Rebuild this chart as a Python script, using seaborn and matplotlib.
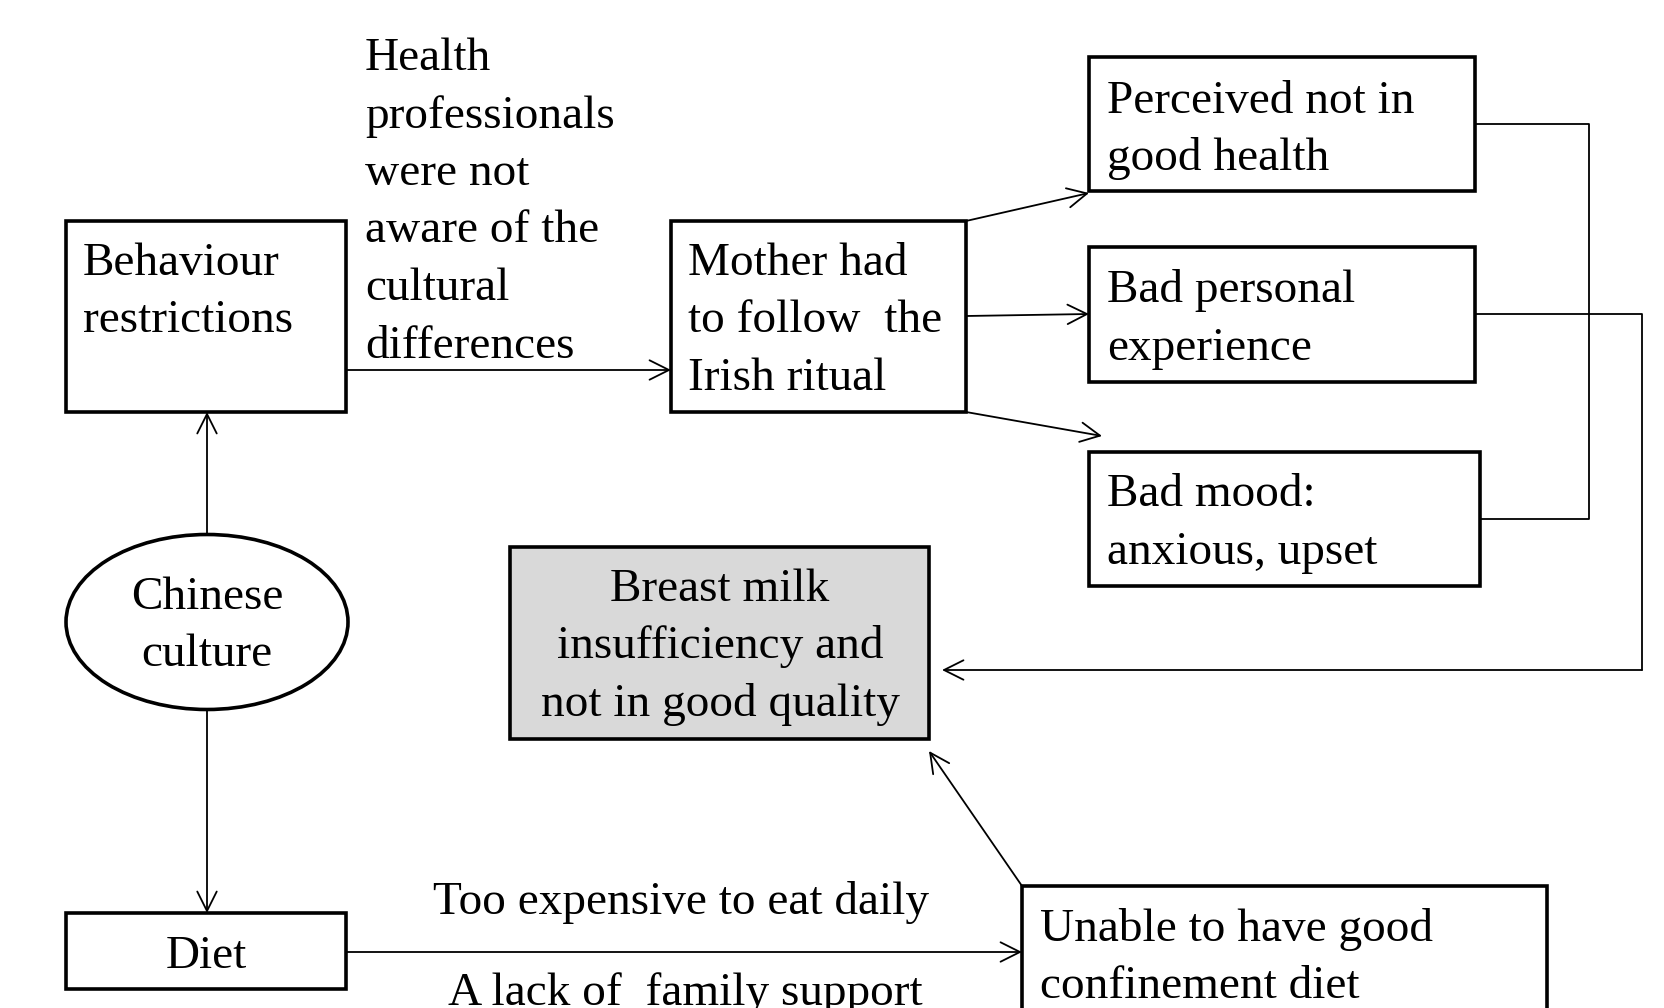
import matplotlib.pyplot as plt
import seaborn as sns
from matplotlib.patches import Rectangle, Ellipse

sns.set_theme(style="white")
plt.rcParams['font.family'] = ['Liberation Serif', 'DejaVu Serif']

W, H = 1664, 1008
FS = 34          # font size in points
STEP = 57.5      # line step in pixels

# --- labels ---
behaviour_lines = ["Behaviour", "restrictions"]
health_lines = ["Health", "professionals", "were not", "aware of the", "cultural", "differences"]
mother_lines = ["Mother had", "to follow  the", "Irish ritual"]
perceived_lines = ["Perceived not in", "good health"]
personal_lines = ["Bad personal", "experience"]
mood_lines = ["Bad mood:", "anxious, upset"]
milk_lines = ["Breast milk", "insufficiency and", "not in good quality"]
culture_lines = ["Chinese", "culture"]
diet_lines = ["Diet"]
unable_lines = ["Unable to have good", "confinement diet"]
expensive_lines = ["Too expensive to eat daily"]
support_lines = ["A lack of  family support"]

# --- layout (pixels, y downwards) ---
boxes = {
    "behaviour": (66, 221, 346, 412),
    "mother": (671, 221, 966, 412),
    "perceived": (1089, 57, 1475, 191),
    "personal": (1089, 247, 1475, 382),
    "mood": (1089, 452, 1480, 586),
    "milk": (510, 547, 929, 739),
    "diet": (66, 913, 346, 989),
    "unable": (1022, 886, 1547, 1100),
}
# (lines, x, first line centre y, align)
texts = [
    (behaviour_lines, 83, 259, "left"),
    (health_lines, 365, 54, "left"),
    (mother_lines, 688, 259, "left"),
    (perceived_lines, 1107, 97, "left"),
    (personal_lines, 1107, 286, "left"),
    (mood_lines, 1107, 490, "left"),
    (milk_lines, 720, 585, "center"),
    (culture_lines, 207, 593, "center"),
    (diet_lines, 206, 952, "center"),
    (unable_lines, 1040, 925, "left"),
    (expensive_lines, 433, 898, "left"),
    (support_lines, 448, 989, "left"),
]
# connectors: polyline points, last segment gets an arrow head
arrows = [
    [(207, 534), (207, 412)],
    [(207, 709), (207, 913)],
    [(346, 370), (671, 370)],
    [(966, 221), (1089, 193)],
    [(966, 316), (1089, 314)],
    [(966, 412), (1102, 436)],
    [(346, 952), (1022, 952)],
    [(1022, 886), (929, 751)],
    [(1475, 314), (1642, 314), (1642, 670), (942, 670)],
]
plain_lines = [
    [(1475, 124), (1589, 124), (1589, 519), (1480, 519)],
]

fig = plt.figure(figsize=(W / 100, H / 100), dpi=100)
ax = fig.add_axes([0, 0, 1, 1])
ax.set_xlim(0, W)
ax.set_ylim(H, 0)
ax.axis("off")

for name, (x0, y0, x1, y1) in boxes.items():
    face = "#d9d9d9" if name == "milk" else "white"
    ax.add_patch(Rectangle((x0, y0), x1 - x0, y1 - y0, facecolor=face,
                           edgecolor="black", linewidth=2.6, zorder=2))

ax.add_patch(Ellipse((207, 622), 282, 175, facecolor="white",
                     edgecolor="black", linewidth=2.6, zorder=2))

for lines, x, y, ha in texts:
    for i, line in enumerate(lines):
        ax.text(x, y + i * STEP + 16, line, ha=ha, va="baseline",
                fontsize=FS, color="black", zorder=3)

for pts in plain_lines:
    xs, ys = zip(*pts)
    ax.plot(xs, ys, color="black", linewidth=1.3, zorder=1)

for pts in arrows:
    if len(pts) > 2:
        xs, ys = zip(*pts[:-1])
        ax.plot(xs, ys, color="black", linewidth=1.3, zorder=1)
    ax.annotate("", xy=pts[-1], xytext=pts[-2],
                arrowprops=dict(arrowstyle="->,head_length=0.7,head_width=0.35",
                                color="black", lw=1.3, shrinkA=0, shrinkB=0,
                                mutation_scale=20), zorder=1)

fig.savefig("out.png", dpi=100, facecolor="white")
